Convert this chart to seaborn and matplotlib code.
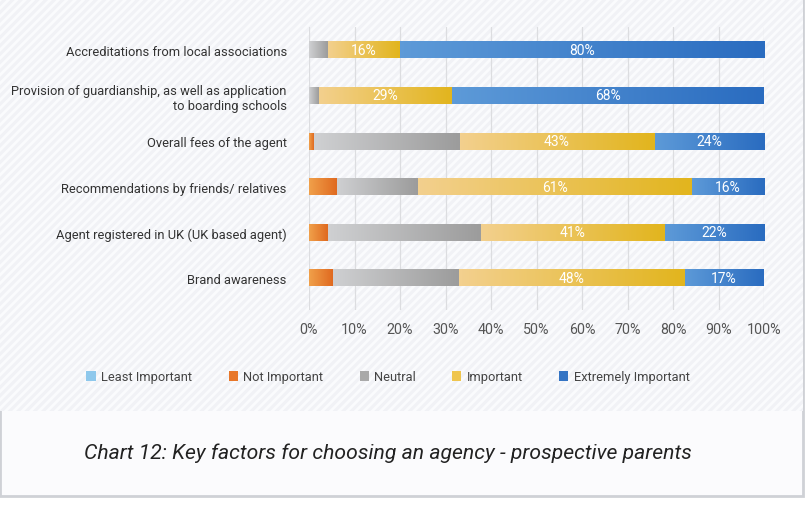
import numpy as np
import pandas as pd
import seaborn as sns
import matplotlib.pyplot as plt
from matplotlib.patches import Rectangle, Patch
from matplotlib.colors import LinearSegmentedColormap

factors = [
    "Accreditations from local associations",
    "Provision of guardianship, as well as application\nto boarding schools",
    "Overall fees of the agent",
    "Recommendations by friends/ relatives",
    "Agent registered in UK (UK based agent)",
    "Brand awareness",
]
levels = ["Least Important", "Not Important", "Neutral", "Important", "Extremely Important"]
least = [0, 0, 0, 0, 0, 0]
not_imp = [0, 0, 1, 6, 4, 5]
neutral = [4, 2, 32, 18, 34, 27]
important = [16, 29, 43, 61, 41, 48]
extreme = [80, 68, 24, 16, 22, 17]
xticks = [0, 10, 20, 30, 40, 50, 60, 70, 80, 90, 100]

# gradient (light -> dark) for each level, plus legend colour
grad = {
    "Least Important": ("#b6dcf2", "#7fbfe6"),
    "Not Important": ("#f0a04a", "#e06a20"),
    "Neutral": ("#cfd0d2", "#9c9c9c"),
    "Important": ("#f3d08e", "#e2b51e"),
    "Extremely Important": ("#5d9ad8", "#2a6cc0"),
}
legend_col = {
    "Least Important": "#8ec8ec",
    "Not Important": "#e8772a",
    "Neutral": "#a9a9a9",
    "Important": "#efc54e",
    "Extremely Important": "#3474c4",
}

sns.set_theme(style="white")
plt.rcParams["font.family"] = ["Roboto", "DejaVu Sans"]
plt.rcParams["hatch.linewidth"] = 2.0

vals = np.array([least, not_imp, neutral, important, extreme], dtype=float)
shares = vals / vals.sum(axis=0) * 100   # 100% stacked
cum = np.cumsum(shares, axis=0)

fig = plt.figure(figsize=(8.1, 5.06), dpi=100)
fig.patch.set_facecolor("white")

# card background
W, H = 810, 506
fig.patches.append(Rectangle((0, 1 - 497 / H), 803 / W, 497 / H, transform=fig.transFigure,
                             facecolor="#fbfbfd", edgecolor="#cfd1d6", lw=2.0, zorder=-5))
fig.patches.append(Rectangle((0, 1 - 412 / H), 803 / W, 412 / H, transform=fig.transFigure,
                             facecolor="#f1f2f6", edgecolor="#fafbfd", hatch="////", lw=0, zorder=-4))

ax = fig.add_axes([309 / W, 1 - 311 / H, 455 / W, 283 / H])
ax.set_facecolor("none")

# cumulative bars drawn from the total down, so each segment is visible
for k in range(len(levels) - 1, -1, -1):
    df = pd.DataFrame({"factor": factors, "value": cum[k]})
    sns.barplot(data=df, x="value", y="factor", orient="h", color=legend_col[levels[k]],
                width=0.37, ax=ax, zorder=2, linewidth=0)

# horizontal gradients over each segment
bars = ax.patches
n = len(factors)
for layer, k in enumerate(range(len(levels) - 1, -1, -1)):
    cmap = LinearSegmentedColormap.from_list(levels[k], grad[levels[k]])
    for i in range(n):
        p = bars[layer * n + i]
        y0, h = p.get_y(), p.get_height()
        x1 = cum[k, i]
        x0 = cum[k - 1, i] if k > 0 else 0
        if x1 - x0 <= 0:
            continue
        ax.imshow(np.linspace(0, 1, 64)[None, :], cmap=cmap, aspect="auto",
                  extent=(x0, x1, y0 + h, y0), zorder=3, interpolation="bilinear")

# value labels for the two top levels
for k in (3, 4):
    for i in range(n):
        mid = (cum[k, i] + cum[k - 1, i]) / 2
        ax.text(mid, i, f"{vals[k, i]:.0f}%", ha="center", va="center",
                color="white", fontsize=10, zorder=5)

ax.set_xlim(0, 100)
ax.set_ylim(5.7, -0.5)
ax.set_xticks(xticks)
ax.set_xticklabels([f"{t}%" for t in xticks])
ax.tick_params(axis="x", length=0, pad=9, labelsize=10.3, labelcolor="#555555")
ax.tick_params(axis="y", length=0, pad=16, labelsize=9.3, labelcolor="#333333")
ax.xaxis.grid(True, color="#dcdde0", lw=0.9, zorder=0)
ax.set_axisbelow(True)
ax.set_xlabel("")
ax.set_ylabel("")
for s in ax.spines.values():
    s.set_visible(False)
for lab in ax.get_yticklabels():
    lab.set_multialignment("right")

handles = [Patch(facecolor=legend_col[l], edgecolor="none") for l in levels]
fig.legend(handles, levels, loc="center", bbox_to_anchor=(388 / W, 1 - 378 / H), ncol=5,
           frameon=False, fontsize=9.3, handlelength=0.7, handleheight=0.7,
           handletextpad=0.4, columnspacing=2.85, labelcolor="#444444")

fig.text(84 / W, 1 - 453 / H, "Chart 12: Key factors for choosing an agency - prospective parents",
         fontsize=15.2, fontstyle="italic", color="#222222", ha="left", va="center")

fig.savefig("out.png", dpi=100, facecolor=fig.get_facecolor())
